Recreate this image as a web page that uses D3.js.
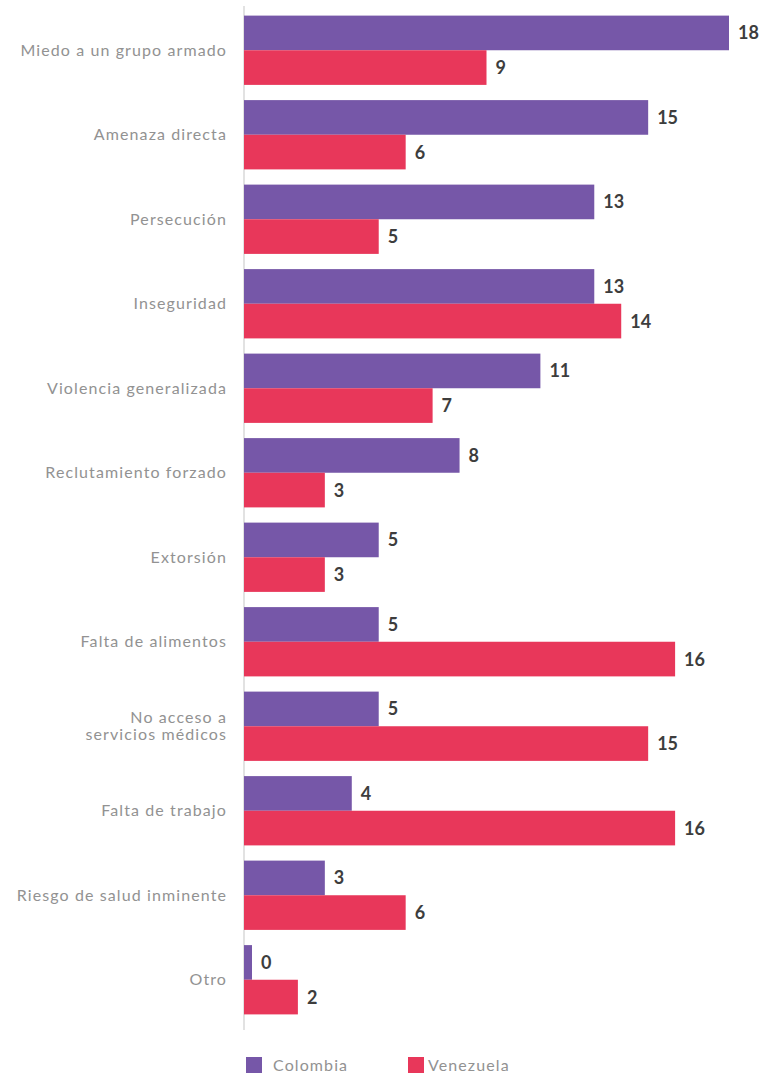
<!DOCTYPE html>
<html>
<head>
<meta charset="utf-8">
<script src="https://cdn.jsdelivr.net/npm/d3@7"></script>
<style>
  html, body { margin: 0; padding: 0; background: #fff; }
  svg { display: block; }
</style>
</head>
<body>
<svg id="chart" width="760" height="1075"></svg>
<script>
// Motivos de salida por país
const categories = [
  "Miedo a un grupo armado",
  "Amenaza directa",
  "Persecución",
  "Inseguridad",
  "Violencia generalizada",
  "Reclutamiento forzado",
  "Extorsión",
  "Falta de alimentos",
  "No acceso a|servicios médicos",
  "Falta de trabajo",
  "Riesgo de salud inminente",
  "Otro"
];
const seriesNames = ["Colombia", "Venezuela"];
const colombia  = [18, 15, 13, 13, 11, 8, 5, 5, 5, 4, 3, 0];
const venezuela = [9, 6, 5, 14, 7, 3, 3, 16, 15, 16, 6, 2];
const colors = ["#7657a8", "#e8375a"];

const svg = d3.select("#chart");
const x0 = 244;

const x = d3.scaleLinear().domain([0, 18]).range([x0, 729]);
const y = d3.scaleBand().domain(categories).range([8, 1022])
  .paddingInner(0.18).paddingOuter(0.09);
const ySub = d3.scaleBand().domain(seriesNames).range([0, y.bandwidth()]);

const rows = categories.map((c, i) => ({
  cat: c,
  vals: [colombia[i], venezuela[i]]
}));

// baseline
svg.append("line")
  .attr("x1", x0).attr("x2", x0)
  .attr("y1", 6).attr("y2", 1030)
  .attr("stroke", "#e2e2e2").attr("stroke-width", 2);

const g = svg.selectAll("g.row").data(rows).join("g")
  .attr("class", "row")
  .attr("transform", d => `translate(0,${y(d.cat)})`);

g.selectAll("rect").data(d => d.vals.map((v, k) => ({v, k}))).join("rect")
  .attr("x", x0)
  .attr("y", d => ySub(seriesNames[d.k]))
  .attr("width", d => Math.max(x(d.v) - x0, d.v === 0 ? 8 : 0))
  .attr("height", ySub.bandwidth())
  .attr("fill", d => colors[d.k]);

g.selectAll("text.val").data(d => d.vals.map((v, k) => ({v, k}))).join("text")
  .attr("class", "val")
  .attr("x", d => Math.max(x(d.v), x0 + 8) + 9)
  .attr("y", d => ySub(seriesNames[d.k]) + ySub.bandwidth() / 2)
  .attr("dy", "0.36em")
  .attr("font-family", "Lato, 'Open Sans', sans-serif")
  .attr("font-weight", 700)
  .attr("font-size", 18)
  .attr("fill", "#3d3d3d")
  .text(d => d.v);

// category labels
g.append("text")
  .attr("text-anchor", "end")
  .attr("font-family", "Lato, 'Open Sans', sans-serif")
  .attr("font-weight", 400)
  .attr("font-size", 16)
  .attr("letter-spacing", "1.1px")
  .attr("fill", "#929292")
  .each(function(d) {
    const lines = d.cat.split("|");
    const t = d3.select(this);
    const mid = y.bandwidth() / 2;
    lines.forEach((ln, i) => {
      t.append("tspan")
        .attr("x", 227)
        .attr("y", mid + (i - (lines.length - 1) / 2) * 17)
        .attr("dy", "0.35em")
        .text(ln);
    });
  });

// legend
const legend = svg.append("g").attr("transform", "translate(0,1057)");
const legX = [246, 408];
seriesNames.forEach((s, i) => {
  legend.append("rect")
    .attr("x", legX[i]).attr("y", 0)
    .attr("width", 16).attr("height", 16)
    .attr("fill", colors[i]);
  legend.append("text")
    .attr("x", legX[i] + (i === 0 ? 27 : 20))
    .attr("y", 8).attr("dy", "0.38em")
    .attr("font-family", "Lato, 'Open Sans', sans-serif")
    .attr("font-size", 16)
    .attr("letter-spacing", "1.1px")
    .attr("fill", "#929292")
    .text(s);
});
</script>
</body>
</html>
